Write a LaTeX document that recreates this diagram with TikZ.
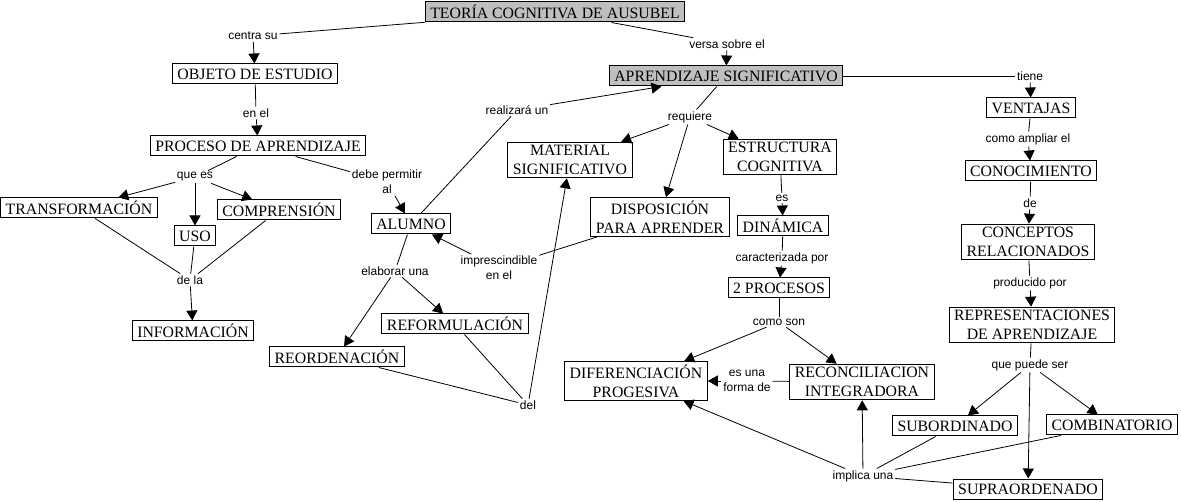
\documentclass[tikz,border=0pt]{standalone}
\usepackage{fontspec}
\setmainfont{Liberation Serif}
\newfontfamily\linkfont{Liberation Sans}
\usetikzlibrary{arrows.meta}
\tikzset{>={Triangle[length=10pt,width=11pt]}}

\begin{document}
\begin{tikzpicture}[x=1pt, y=-1pt, line width=0.8pt]
\tikzset{concept/.style={draw, line width=1pt, fill=white, align=center, inner xsep=5pt, inner ysep=3pt, minimum height=20pt, font=\fontsize{15.8}{19}\selectfont}}
\tikzset{keyconcept/.style={concept, fill=gray!50}}
\tikzset{linkword/.style={align=center, inner sep=1.5pt, font=\linkfont\fontsize{12}{15}\selectfont}}
    \useasboundingbox (0,0) rectangle (1181,502);

    \node[keyconcept] (Teo) at (555,12) {TEORÍA COGNITIVA DE AUSUBEL};
    \node[concept] (Obj) at (255,74) {OBJETO DE ESTUDIO};
    \node[concept] (Proc) at (258,146) {PROCESO DE APRENDIZAJE};
    \node[concept] (Trans) at (79,208) {TRANSFORMACIÓN};
    \node[concept] (Uso) at (195,236) {USO};
    \node[concept] (Comp) at (279,210) {COMPRENSIÓN};
    \node[concept] (Info) at (193,331) {INFORMACIÓN};
    \node[concept] (Alum) at (411,224) {ALUMNO};
    \node[concept] (Reord) at (337,357) {REORDENACIÓN};
    \node[concept] (Reform) at (455,324) {REFORMULACIÓN};
    \node[keyconcept] (AprSig) at (726,76) {APRENDIZAJE SIGNIFICATIVO};
    \node[concept] (Mat) at (570,160) {MATERIAL\\SIGNIFICATIVO};
    \node[concept] (Disp) at (660,217) {DISPOSICIÓN\\PARA APRENDER};
    \node[concept] (Estr) at (780,157) {ESTRUCTURA\\COGNITIVA};
    \node[concept] (Din) at (783,226) {DINÁMICA};
    \node[concept] (DosProc) at (779,288) {2 PROCESOS};
    \node[concept] (Dif) at (636,381) {DIFERENCIACIÓN\\PROGESIVA};
    \node[concept] (Rec) at (862,382) {RECONCILIACION\\INTEGRADORA};
    \node[concept] (Vent) at (1031,108) {VENTAJAS};
    \node[concept] (Conoc) at (1031,171) {CONOCIMIENTO};
    \node[concept] (Conc) at (1028,242) {CONCEPTOS\\RELACIONADOS};
    \node[concept] (Repr) at (1032,325) {REPRESENTACIONES\\DE APRENDIZAJE};
    \node[concept] (Subord) at (955,426) {SUBORDINADO};
    \node[concept] (Comb) at (1112,425) {COMBINATORIO};
    \node[concept] (Supra) at (1028,489) {SUPRAORDENADO};
% % % % % % % % % % % % % % % % % % %
    \node[linkword] (lCentra) at (253,36) {centra su};
    \node[linkword] (lVersa) at (727,44) {versa sobre el};
    \node[linkword] (lEnEl) at (256,113) {en el};
    \node[linkword] (lQueEs) at (195,177) {que es};
    \node[linkword] (lDebe) at (387,182) {debe permitir\\al};
    \node[linkword] (lDeLa) at (190,280) {de la};
    \node[linkword] (lRealiza) at (517,110) {realizará un};
    \node[linkword] (lElabora) at (395,271) {elaborar una};
    \node[linkword] (lImpresc) at (499,268) {imprescindible\\en el};
    \node[linkword] (lDel) at (528,405) {del};
    \node[linkword] (lRequiere) at (690,117) {requiere};
    \node[linkword] (lEs) at (782,198) {es};
    \node[linkword] (lCaract) at (782,258) {caracterizada por};
    \node[linkword] (lComoSon) at (779,322) {como son};
    \node[linkword] (lForma) at (747,381) {es una\\forma de};
    \node[linkword] (lImplica) at (863,476) {implica una};
    \node[linkword] (lTiene) at (1030,76) {tiene};
    \node[linkword] (lAmpliar) at (1028,139) {como ampliar el};
    \node[linkword] (lDe) at (1030,203) {de};
    \node[linkword] (lProducido) at (1030,283) {producido por};
    \node[linkword] (lPuede) at (1030,365) {que puede ser};
% % % % % % % % % % % % % % % % % % %
    \draw (Teo) -- (lCentra);
    \draw[->] (lCentra) -- (Obj);
    \draw (Teo) -- (lVersa);
    \draw[->] (lVersa) -- (AprSig);
    \draw (Obj) -- (lEnEl);
    \draw[->] (lEnEl) -- (Proc);
    \draw (Proc) -- (lQueEs);
    \draw[->] (lQueEs) -- (Trans);
    \draw[->] (lQueEs) -- (Uso);
    \draw[->] (lQueEs) -- (Comp);
    \draw (Trans) -- (lDeLa);
    \draw (Uso) -- (lDeLa);
    \draw (Comp) -- (lDeLa);
    \draw[->] (lDeLa) -- (Info);
    \draw (Proc) -- (lDebe);
    \draw[->] (lDebe) -- (Alum);
    \draw (Alum) -- (lRealiza);
    \draw[->] (lRealiza) -- (AprSig);
    \draw (Alum) -- (lElabora);
    \draw[->] (lElabora) -- (Reord);
    \draw[->] (lElabora) -- (Reform);
    \draw (Reord) -- (lDel);
    \draw (Reform) -- (lDel);
    \draw[->] (lDel) -- (Mat);
    \draw (Disp) -- (lImpresc);
    \draw[->] (lImpresc) -- (Alum);
% % % % % % % % % % % % % % % % % % %
    \draw (AprSig) -- (lRequiere);
    \draw[->] (lRequiere) -- (Mat);
    \draw[->] (lRequiere) -- (Disp);
    \draw[->] (lRequiere) -- (Estr);
    \draw (Estr) -- (lEs);
    \draw[->] (lEs) -- (Din);
    \draw (Din) -- (lCaract);
    \draw[->] (lCaract) -- (DosProc);
    \draw (DosProc) -- (lComoSon);
    \draw[->] (lComoSon) -- (Dif);
    \draw[->] (lComoSon) -- (Rec);
    \draw (Rec) -- (lForma);
    \draw[->] (lForma) -- (Dif);
% % % % % % % % % % % % % % % % % % %
    \draw (AprSig) -- (lTiene);
    \draw[->] (lTiene) -- (Vent);
    \draw (Vent) -- (lAmpliar);
    \draw[->] (lAmpliar) -- (Conoc);
    \draw (Conoc) -- (lDe);
    \draw[->] (lDe) -- (Conc);
    \draw (Conc) -- (lProducido);
    \draw[->] (lProducido) -- (Repr);
    \draw (Repr) -- (lPuede);
    \draw[->] (lPuede) -- (Subord);
    \draw[->] (lPuede) -- (Supra);
    \draw[->] (lPuede) -- (Comb);
    \draw (Subord) -- (lImplica);
    \draw (Comb) -- (lImplica);
    \draw (Supra) -- (lImplica);
    \draw[->] (lImplica) -- (Dif);
    \draw[->] (lImplica) -- (Rec);
\end{tikzpicture}
\end{document}
